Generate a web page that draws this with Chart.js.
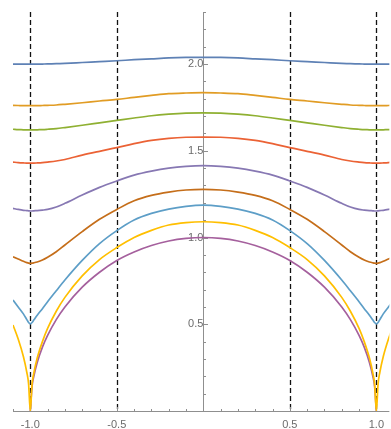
<!DOCTYPE html>
<html>
<head>
<meta charset="utf-8">
<script src="https://cdn.jsdelivr.net/npm/chart.js@4/dist/chart.umd.min.js"></script>
<style>
  html, body { margin: 0; padding: 0; background: #fff; }
  #wrap { width: 391px; height: 429px; }
</style>
</head>
<body>
<div id="wrap"><canvas id="bands"></canvas></div>
<script>
// sample abscissae shared by every curve
const xs = [-1.1, -1.07, -1.04, -1.02, -1.01, -1, -0.99, -0.98, -0.96, -0.93, -0.9, -0.85, -0.8, -0.7, -0.6, -0.5, -0.4, -0.3, -0.2, -0.1,
  0, 0.1, 0.2, 0.3, 0.4, 0.5, 0.6, 0.7, 0.8, 0.85, 0.9, 0.93, 0.96, 0.98, 0.99, 1, 1.01, 1.02, 1.04, 1.07, 1.1];

// curves, top to bottom
const curve1 = [2.000, 2.000, 1.999, 1.999, 1.999, 1.999, 1.999, 1.999, 1.999, 2.000, 2.001, 2.002, 2.004, 2.009, 2.014, 2.019, 2.025, 2.030, 2.035, 2.038,
  2.039, 2.038, 2.035, 2.030, 2.025, 2.019, 2.014, 2.009, 2.004, 2.002, 2.001, 2.000, 1.999, 1.999, 1.999, 1.999, 1.999, 1.999, 1.999, 2.000, 2.000];
const curve2 = [1.762, 1.761, 1.760, 1.760, 1.760, 1.760, 1.760, 1.760, 1.760, 1.761, 1.762, 1.764, 1.768, 1.777, 1.787, 1.796, 1.808, 1.819, 1.829, 1.833,
  1.835, 1.833, 1.829, 1.819, 1.808, 1.796, 1.787, 1.777, 1.768, 1.764, 1.762, 1.761, 1.760, 1.760, 1.760, 1.760, 1.760, 1.760, 1.760, 1.761, 1.762];
const curve3 = [1.624, 1.622, 1.621, 1.620, 1.620, 1.620, 1.620, 1.620, 1.621, 1.622, 1.624, 1.628, 1.634, 1.647, 1.661, 1.675, 1.689, 1.702, 1.711, 1.717,
  1.719, 1.717, 1.711, 1.702, 1.689, 1.675, 1.661, 1.647, 1.634, 1.628, 1.624, 1.622, 1.621, 1.620, 1.620, 1.620, 1.620, 1.620, 1.621, 1.622, 1.624];
const curve4 = [1.435, 1.432, 1.430, 1.429, 1.429, 1.429, 1.429, 1.429, 1.430, 1.432, 1.435, 1.441, 1.450, 1.475, 1.497, 1.518, 1.541, 1.560, 1.572, 1.578,
  1.579, 1.578, 1.572, 1.560, 1.541, 1.518, 1.497, 1.475, 1.450, 1.441, 1.435, 1.432, 1.430, 1.429, 1.429, 1.429, 1.429, 1.429, 1.430, 1.432, 1.435];
const curve5 = [1.168, 1.162, 1.157, 1.155, 1.154, 1.153, 1.153, 1.154, 1.155, 1.158, 1.162, 1.176, 1.197, 1.245, 1.289, 1.326, 1.360, 1.383, 1.400, 1.410,
  1.414, 1.410, 1.400, 1.383, 1.360, 1.326, 1.289, 1.245, 1.197, 1.176, 1.162, 1.158, 1.155, 1.154, 1.153, 1.153, 1.154, 1.155, 1.157, 1.162, 1.168];
const curve6 = [0.889, 0.876, 0.863, 0.855, 0.852, 0.851, 0.852, 0.854, 0.859, 0.870, 0.886, 0.918, 0.957, 1.034, 1.105, 1.162, 1.212, 1.243, 1.262, 1.274,
  1.278, 1.274, 1.262, 1.243, 1.212, 1.162, 1.105, 1.034, 0.957, 0.918, 0.886, 0.870, 0.859, 0.854, 0.852, 0.851, 0.852, 0.855, 0.863, 0.876, 0.889];
const curve7 = [0.640, 0.600, 0.560, 0.527, 0.510, 0.502, 0.510, 0.524, 0.552, 0.590, 0.630, 0.693, 0.755, 0.868, 0.965, 1.040, 1.101, 1.139, 1.164, 1.180,
  1.187, 1.180, 1.164, 1.139, 1.101, 1.040, 0.965, 0.868, 0.755, 0.693, 0.630, 0.590, 0.552, 0.524, 0.510, 0.502, 0.510, 0.527, 0.560, 0.600, 0.640];
const curve8 = [0.496, 0.415, 0.314, 0.222, 0.157, 0.000, 0.154, 0.217, 0.305, 0.400, 0.476, 0.575, 0.655, 0.779, 0.873, 0.942, 1.000, 1.041, 1.072, 1.086,
  1.091, 1.086, 1.072, 1.041, 1.000, 0.942, 0.873, 0.779, 0.655, 0.575, 0.476, 0.400, 0.305, 0.217, 0.154, 0.000, 0.157, 0.222, 0.314, 0.415, 0.496];
const curve9 = [null, null, null, null, null, 0.000, 0.141, 0.199, 0.280, 0.368, 0.436, 0.527, 0.600, 0.714, 0.800, 0.868, 0.917, 0.954, 0.980, 0.995,
  1.000, 0.995, 0.980, 0.954, 0.917, 0.868, 0.800, 0.714, 0.600, 0.527, 0.436, 0.368, 0.280, 0.199, 0.141, 0.000, null, null, null, null, null];

const curves = [curve1, curve2, curve3, curve4, curve5, curve6, curve7, curve8, curve9];
const colors = ["#5E81B5", "#E19C24", "#8FB032", "#EB6235", "#8778B3", "#C56E1A", "#5D9EC7", "#FFBF00", "#A5609D"];

// tick labels and dashed guides
const xTickLabels = [-1, -0.5, 0.5, 1];
const yTickLabels = [0.5, 1, 1.5, 2];
const guideX = [-1, -0.5, 0.5, 1];

const AXIS_COLOR = "#8f8f8f";
const LABEL_COLOR = "#6b6b6b";

// axes through the origin, inward ticks, dashed vertical guides
const axesPlugin = {
  id: "axesPlugin",
  beforeDraw(chart) {
    const ctx = chart.ctx;
    ctx.save();
    ctx.fillStyle = "#fff";
    ctx.fillRect(0, 0, chart.width, chart.height);
    ctx.restore();
  },
  beforeDatasetsDraw(chart) {
    const { ctx, chartArea: a, scales: { x, y } } = chart;
    const x0 = Math.round(x.getPixelForValue(0)) + 0.5;
    const y0 = Math.round(y.getPixelForValue(0)) + 0.5;
    ctx.save();

    // dashed guides
    ctx.strokeStyle = "#111";
    ctx.lineWidth = 1.3;
    ctx.setLineDash([5, 3]);
    guideX.forEach(v => {
      const px = Math.round(x.getPixelForValue(v)) + 0.5;
      ctx.beginPath();
      ctx.moveTo(px, a.top);
      ctx.lineTo(px, a.bottom);
      ctx.stroke();
    });
    ctx.setLineDash([]);

    // axis lines
    ctx.strokeStyle = AXIS_COLOR;
    ctx.lineWidth = 1;
    ctx.beginPath();
    ctx.moveTo(a.left, y0);
    ctx.lineTo(a.right, y0);
    ctx.moveTo(x0, a.bottom);
    ctx.lineTo(x0, a.top);
    ctx.stroke();

    // x ticks every 0.1, longer at the labelled ones
    ctx.beginPath();
    for (let k = Math.ceil(x.min * 10); k <= Math.floor(x.max * 10); k++) {
      if (k === 0) continue;
      const px = Math.round(x.getPixelForValue(k / 10)) + 0.5;
      const len = k % 5 === 0 ? 4.5 : 2.5;
      ctx.moveTo(px, y0);
      ctx.lineTo(px, y0 - len);
    }
    // y ticks every 0.1
    for (let k = 1; k <= Math.floor(y.max * 10); k++) {
      const py = Math.round(y.getPixelForValue(k / 10)) + 0.5;
      const len = k % 5 === 0 ? 4.5 : 2.5;
      ctx.moveTo(x0, py);
      ctx.lineTo(x0 + len, py);
    }
    ctx.stroke();
    ctx.restore();
  }
};

new Chart(document.getElementById("bands"), {
  type: "line",
  data: {
    datasets: curves.map((c, i) => ({
      data: xs.map((v, j) => ({ x: v, y: c[j] })),
      borderColor: colors[i],
      borderWidth: 1.7,
      pointRadius: 0,
      cubicInterpolationMode: "monotone",
      spanGaps: false,
      fill: false,
    })),
  },
  options: {
    responsive: true,
    maintainAspectRatio: false,
    animation: false,
    events: [],
    layout: { padding: { top: 12, left: 13, right: 0, bottom: 0 } },
    plugins: {
      legend: { display: false },
      tooltip: { enabled: false },
    },
    scales: {
      x: {
        type: "linear",
        min: -1.1,
        max: 1.075,
        grid: { display: false, drawTicks: false },
        border: { display: false },
        afterBuildTicks: axis => { axis.ticks = xTickLabels.map(v => ({ value: v })); },
        afterFit: axis => { axis.height = 18; },
        ticks: {
          autoSkip: false,
          maxRotation: 0,
          padding: 7,
          color: LABEL_COLOR,
          font: { family: "Liberation Sans", size: 11 },
          callback: v => Number(v).toFixed(1),
        },
      },
      y: {
        type: "linear",
        min: 0,
        max: 2.3,
        position: { x: 0 },
        grid: { display: false, drawTicks: false },
        border: { display: false },
        afterBuildTicks: axis => { axis.ticks = yTickLabels.map(v => ({ value: v })); },
        ticks: {
          autoSkip: false,
          padding: 3,
          color: LABEL_COLOR,
          font: { family: "Liberation Sans", size: 11 },
          callback: v => Number(v).toFixed(1),
        },
      },
    },
  },
  plugins: [axesPlugin],
});
</script>
</body>
</html>
